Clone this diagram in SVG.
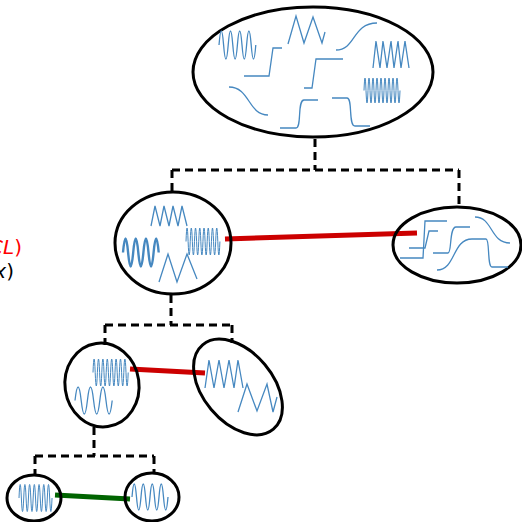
<svg xmlns="http://www.w3.org/2000/svg" width="522" height="522" viewBox="0 0 522 522">
<style>
.node{fill:none;stroke:#000;stroke-width:3}
.w{fill:none;stroke:#4688c0;stroke-width:1.3;stroke-linejoin:miter}
.wf{fill:none;stroke:#4688c0;stroke-width:1}
.wt{fill:none;stroke:#4688c0;stroke-width:2.4}
.dash{fill:none;stroke:#000;stroke-width:3;stroke-dasharray:8,5}
.red{stroke:#cc0000;stroke-width:5}
.green{stroke:#006400;stroke-width:5}
.lbl{font-family:"DejaVu Sans",sans-serif;font-size:20px}
</style>
<rect width="522" height="522" fill="#fff"/>
<g id="connectors">
<path class="dash" d="M315,139 V170 M172,170 H459 M172,170 V192 M459,170 V208"/>
<path class="dash" d="M171,295 V325 M105,325 H232 M105,325 V345 M232,325 V343"/>
<path class="dash" d="M94,427 V456 M35,456 H154 M35,456 V475 M154,456 V473"/>
<line class="red" x1="225" y1="239" x2="417" y2="233"/>
<line class="red" x1="130" y1="369" x2="205" y2="373"/>
<line class="green" x1="55" y1="495" x2="130" y2="499"/>
</g>
<g id="labels">
<text class="lbl" x="22" y="254" text-anchor="end" fill="#ff0000"><tspan font-style="italic">CL</tspan>)</text>
<text class="lbl" x="14" y="278" text-anchor="end" fill="#000"><tspan font-style="italic">x</tspan>)</text>
</g>
<g id="root">
<ellipse class="node" cx="313" cy="72" rx="120" ry="65"/>
<path class="w" d="M219,45 q2.3,-28 4.6,0 t4.6,0 t4.6,0 t4.6,0 t4.6,0 t4.6,0 t4.6,0 t4.6,0"/>
<polyline class="w" points="288,44 296,16 304,43 313,17 322,43 325,32"/>
<path class="w" d="M336,50 C356,50 352,23 377,23"/>
<polyline class="w" points="373,68 376,41 380,68 383,41 387,68 391,41 394,68 398,41 401,68 405,41 409,68"/>
<path class="w" d="M244,76 H269 L273,48 H282"/>
<path class="w" d="M304,88 H312 L316,59 H343"/>
<path class="wf" d="M364,90.5 q1,-25 2,0 t2,0 t2,0 t2,0 t2,0 t2,0 t2,0 t2,0 t2,0 t2,0 t2,0 t2,0 t2,0 t2,0 t2,0 t2,0 t2,0 t2,0"/>
<path class="w" d="M229,87 C250,87 248,115 268,115"/>
<path class="w" d="M280,128 H296 C302,128 297,100 304,100 H318"/>
<path class="w" d="M332,98 H347 C353,98 348,126 355,126 H370"/>
</g>
<g id="n1">
<ellipse class="node" cx="173" cy="243" rx="58" ry="51"/>
<polyline class="w" points="151,226 155,206 160,226 164,206 169,226 173,206 178,226 182,206 187,226"/>
<path class="wt" d="M123,252.5 q2.55,-28 5.1,0 t5.1,0 t5.1,0 t5.1,0 t5.1,0 t5.1,0 t5.1,0"/>
<path class="wf" d="M186,241.5 q1.06,-27 2.12,0 t2.12,0 t2.12,0 t2.12,0 t2.12,0 t2.12,0 t2.12,0 t2.12,0 t2.12,0 t2.12,0 t2.12,0 t2.12,0 t2.12,0 t2.12,0 t2.12,0 t2.12,0"/>
<polyline class="w" points="159,282 168,254 177,282 187,254 197,279"/>
</g>
<g id="n2">
<ellipse class="node" cx="457" cy="245" rx="64" ry="38"/>
<path class="w" d="M400,258 H423 L425,221 H447"/>
<path class="w" d="M409,248 H425 L429,231 H438"/>
<path class="w" d="M433,253 H448 C452,253 449,227 456,227 H470"/>
<path class="w" d="M437,270 C456,270 452,239 472,239 H486 C490,239 487,267 492,267 H508"/>
<path class="w" d="M475,217 C493,217 490,243 510,243"/>
</g>
<g id="n3">
<ellipse class="node" cx="102" cy="385" rx="37" ry="42" transform="rotate(-8 102 385)"/>
<path class="wf" d="M93,372.5 q1.1,-27 2.2,0 t2.2,0 t2.2,0 t2.2,0 t2.2,0 t2.2,0 t2.2,0 t2.2,0 t2.2,0 t2.2,0 t2.2,0 t2.2,0 t2.2,0 t2.2,0 t2.2,0 t2.2,0"/>
<path class="w" d="M75,400.5 q3.1,-27 6.2,0 t6.2,0 t6.2,0 t6.2,0 t6.2,0 t6.2,0"/>
</g>
<g id="n4">
<ellipse class="node" cx="238" cy="387" rx="55" ry="35" transform="rotate(50 238 387)"/>
<polyline class="w" points="205,388 209,360 214,388 219,360 224,388 229,360 234,388 238,360 243,388"/>
<polyline class="w" points="238,412 247,384 257,411 267,384 273,412 277,397"/>
</g>
<g id="n5">
<ellipse class="node" cx="34" cy="498" rx="27" ry="23"/>
<path class="wf" d="M19,498 q1.18,-27 2.36,0 t2.36,0 t2.36,0 t2.36,0 t2.36,0 t2.36,0 t2.36,0 t2.36,0 t2.36,0 t2.36,0 t2.36,0 t2.36,0 t2.36,0 t2.36,0"/>
</g>
<g id="n6">
<ellipse class="node" cx="152" cy="497" rx="27" ry="24"/>
<path class="w" d="M132,497 q2.25,-26 4.5,0 t4.5,0 t4.5,0 t4.5,0 t4.5,0 t4.5,0 t4.5,0 t4.5,0"/>
</g>
</svg>
